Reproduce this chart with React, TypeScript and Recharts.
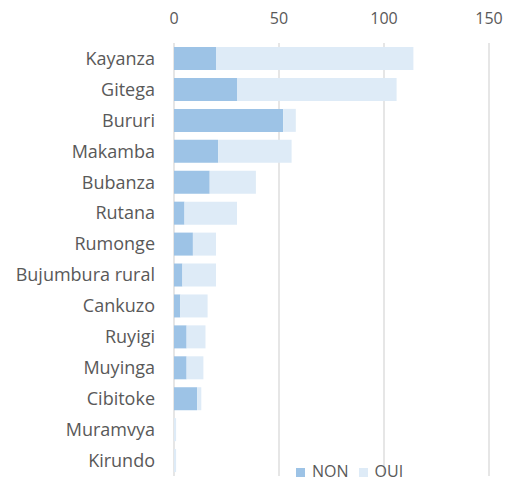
import { BarChart, Bar, XAxis, YAxis, CartesianGrid, Legend } from 'recharts'

const PROVINCES = [
  'Kayanza', 'Gitega', 'Bururi', 'Makamba', 'Bubanza', 'Rutana', 'Rumonge',
  'Bujumbura rural', 'Cankuzo', 'Ruyigi', 'Muyinga', 'Cibitoke', 'Muramvya', 'Kirundo',
]
const NON = [20, 30, 52, 21, 17, 5, 9, 4, 3, 6, 6, 11, 0, 0]
const OUI = [94, 76, 6, 35, 22, 25, 11, 16, 13, 9, 8, 2, 1, 1]
const X_TICKS = [0, 50, 100, 150]

const data = PROVINCES.map((p, i) => ({ province: p, NON: NON[i], OUI: OUI[i] }))

const FONT = '"Open Sans", sans-serif'
const TEXT = '#595959'

export default function App() {
  return (
    <div style={{ position: 'absolute', left: 0, top: 0, width: 510, height: 481, background: '#fff', fontFamily: FONT }}>
      <BarChart
        width={510}
        height={481}
        data={data}
        layout="vertical"
        barCategoryGap="13%"
        margin={{ top: 13, right: 21, bottom: 5, left: 0 }}
      >
        <CartesianGrid horizontal={false} stroke="#d9d9d9" strokeWidth={1.3} />
        <XAxis
          type="number"
          orientation="top"
          domain={[0, 150]}
          ticks={X_TICKS}
          height={30}
          axisLine={false}
          tickLine={false}
          tickSize={0}
          tickMargin={19}
          tick={{ fill: TEXT, fontSize: 16, fontFamily: FONT }}
        />
        <YAxis
          type="category"
          dataKey="province"
          width={174}
          axisLine={false}
          tickLine={false}
          tickSize={0}
          tickMargin={19}
          interval={0}
          tick={{ fill: TEXT, fontSize: 18, fontFamily: FONT }}
        />
        <Bar dataKey="NON" stackId="a" fill="#9dc3e6" isAnimationActive={false} />
        <Bar dataKey="OUI" stackId="a" fill="#deebf7" isAnimationActive={false} />
        <Legend
          layout="horizontal"
          verticalAlign="middle"
          align="center"
          iconType="square"
          iconSize={9}
          wrapperStyle={{ position: 'absolute', left: 296, top: 463, width: 'auto', fontSize: 16, lineHeight: '16px', fontFamily: FONT }}
          formatter={(v: string) => <span style={{ color: TEXT, marginLeft: 3 }}>{v}</span>}
        />
      </BarChart>
    </div>
  )
}
